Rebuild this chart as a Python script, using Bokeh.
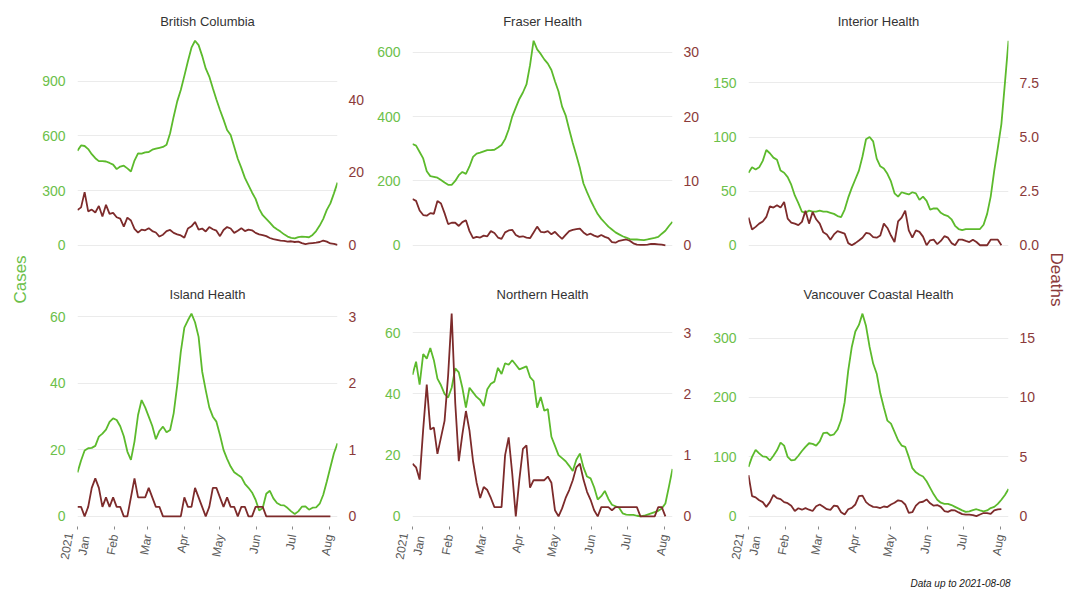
import math
import pandas as pd
from bokeh.plotting import figure
from bokeh.models import Range1d, LinearAxis, FixedTicker, Label, ColumnDataSource
from bokeh.layouts import row, column
from bokeh.embed import file_html
from bokeh.resources import INLINE

# ---------------- data (7-day averages, one value every 3 days from 2021-01-01) ----------------
START = "2021-01-01"
END = "2021-08-08"
STEP = "3D"
DEATH_SCALE = 20  # deaths axis = cases axis / 20

regions = ["British Columbia", "Fraser Health", "Interior Health",
           "Island Health", "Northern Health", "Vancouver Coastal Health"]

bc_cases = [519, 548, 545, 528, 500, 478, 462, 462, 460, 452,
            443, 418, 432, 437, 422, 405, 465, 505, 503, 510,
            512, 525, 530, 535, 540, 552, 615, 706, 790, 852,
            930, 1010, 1085, 1123, 1099, 1040, 971, 926, 862, 800,
            743, 690, 633, 605, 541, 475, 425, 370, 330, 290,
            255, 200, 165, 145, 124, 102, 88, 75, 60, 48,
            41, 38, 45, 48, 46, 44, 57, 78, 108, 145,
            194, 230, 285, 344]
bc_deaths = [9.7, 10.4, 14.6, 9.3, 9.8, 9.0, 10.8, 7.9, 11.1, 8.6,
             8.9, 7.7, 7.3, 5.1, 7.6, 6.8, 4.5, 3.5, 4.3, 4.1,
             4.7, 3.9, 3.5, 2.4, 2.9, 3.9, 4.2, 3.4, 3.0, 2.7,
             2.1, 4.6, 5.2, 6.4, 4.3, 4.6, 3.8, 5.0, 4.4, 4.0,
             2.5, 4.2, 5.0, 4.6, 3.4, 4.0, 4.7, 3.9, 4.3, 4.1,
             3.4, 3.0, 2.8, 2.5, 2.0, 1.7, 1.5, 1.3, 1.2, 1.0,
             1.1, 0.9, 1.0, 0.6, 0.3, 0.5, 0.6, 0.7, 0.9, 1.3,
             1.0, 0.5, 0.4, 0.1]

fraser_cases = [315, 310, 290, 270, 230, 215, 213, 210, 203, 195,
                188, 188, 200, 218, 228, 222, 245, 275, 285, 288,
                292, 296, 296, 297, 304, 312, 330, 360, 400, 428,
                455, 475, 500, 560, 636, 609, 595, 578, 565, 545,
                510, 478, 431, 404, 360, 318, 280, 240, 192, 165,
                140, 118, 97, 82, 70, 58, 49, 40, 34, 28,
                24, 19, 18, 18, 17, 16, 18, 21, 23, 26,
                36, 45, 60, 73]
fraser_deaths = [7.2, 6.9, 5.4, 4.7, 4.6, 5.0, 4.9, 6.9, 6.5, 5.0,
                 3.3, 3.5, 3.5, 3.0, 3.6, 3.9, 2.2, 1.1, 1.3, 1.2,
                 1.5, 1.4, 2.2, 1.9, 1.2, 1.0, 2.0, 2.3, 2.4, 1.6,
                 1.3, 1.4, 1.2, 1.1, 2.0, 2.9, 2.1, 2.0, 2.2, 1.7,
                 2.1, 1.5, 1.0, 1.6, 2.2, 2.4, 2.5, 2.6, 2.0, 1.6,
                 1.8, 1.5, 1.3, 1.6, 1.3, 1.1, 0.5, 0.4, 0.7, 0.8,
                 0.9, 0.7, 0.3, 0.1, 0.05, 0.05, 0.1, 0.2, 0.2, 0.15,
                 0.1, 0.0]

interior_cases = [67, 72, 70, 72, 78, 88, 85, 81, 79, 69,
                  67, 63, 56, 46, 39, 31, 30, 32, 31, 31,
                  32, 31, 31, 30, 29, 27, 26, 33, 44, 53,
                  61, 69, 82, 98, 100, 96, 80, 73, 71, 66,
                  59, 48, 45, 49, 48, 47, 49, 48, 42, 45,
                  41, 33, 34, 34, 30, 28, 27, 24, 18, 15,
                  14, 15, 15, 15, 15, 15, 19, 29, 45, 69,
                  90, 112, 150, 189]
interior_deaths = [1.28, 0.73, 0.85, 1.0, 1.1, 1.31, 1.8, 1.74, 1.85, 1.74,
                   2.0, 1.23, 1.05, 1.0, 0.93, 1.08, 1.59, 1.0, 1.54, 1.2,
                   1.0, 0.6, 0.5, 0.26, 0.5, 0.65, 0.6, 0.54, 0.1, 0.0,
                   0.1, 0.22, 0.35, 0.57, 0.54, 0.38, 0.35, 0.45, 1.0, 0.8,
                   0.45, 0.15, 1.1, 1.28, 1.6, 0.69, 0.35, 0.69, 0.62, 0.4,
                   0.0, 0.23, 0.26, 0.05, 0.2, 0.42, 0.35, 0.1, 0.0, 0.26,
                   0.26, 0.2, 0.15, 0.26, 0.15, 0.0, 0.0, 0.0, 0.26, 0.26,
                   0.26, 0.0]

island_cases = [13.2, 16.8, 19.8, 20.5, 20.6, 21.2, 24.0, 24.9, 26.1, 28.4,
                29.5, 29.0, 27.1, 24.1, 19.5, 17.0, 22.5, 30.5, 35.0, 32.8,
                30.0, 27.2, 23.2, 25.7, 27.0, 25.3, 26.0, 31.0, 39.5, 49.5,
                56.8, 59.0, 61.0, 58.4, 54.0, 43.6, 38.0, 32.8, 30.0, 28.5,
                24.5, 20.0, 17.3, 15.0, 13.3, 12.5, 11.8, 9.8, 8.6, 7.2,
                5.0, 1.8, 2.5, 6.8, 7.7, 5.4, 4.0, 3.4, 3.3, 2.5,
                1.5, 0.7, 1.5, 2.9, 3.0, 2.0, 2.6, 2.7, 3.8, 6.5,
                10.5, 14.8, 19.0, 22.0]
island_deaths = [0.143, 0.143, 0.0, 0.143, 0.429, 0.571, 0.429, 0.143, 0.286, 0.143,
                 0.286, 0.143, 0.143, 0.0, 0.0, 0.286, 0.571, 0.286, 0.286, 0.286,
                 0.429, 0.286, 0.143, 0.143, 0.0, 0.0, 0.0, 0.0, 0.0, 0.0,
                 0.286, 0.143, 0.143, 0.429, 0.286, 0.143, 0.0, 0.143, 0.429, 0.429,
                 0.286, 0.143, 0.286, 0.143, 0.143, 0.0, 0.143, 0.143, 0.0, 0.0,
                 0.143, 0.143, 0.143, 0.0, 0.0, 0.0, 0.0, 0.0, 0.0, 0.0,
                 0.0, 0.0, 0.0, 0.0, 0.0, 0.0, 0.0, 0.0, 0.0, 0.0,
                 0.0, 0.0]

northern_cases = [46.2, 50.5, 43.0, 53.0, 51.5, 55.0, 51.0, 45.0, 42.8, 40.0,
                  38.8, 42.0, 48.3, 47.0, 42.0, 35.5, 42.0, 40.5, 39.0, 38.0,
                  36.0, 41.5, 43.3, 44.0, 48.5, 46.5, 50.0, 49.5, 51.0, 49.5,
                  48.0, 48.5, 49.0, 45.5, 44.2, 35.5, 39.0, 34.5, 35.0, 26.0,
                  23.0, 20.0, 19.0, 18.0, 16.5, 14.8, 18.5, 20.5, 16.0, 13.0,
                  12.4, 9.5, 5.5, 6.6, 8.3, 5.7, 3.8, 3.3, 2.8, 1.0,
                  0.6, 0.5, 0.5, 0.2, 0.0, 0.2, 0.6, 1.0, 1.4, 1.8,
                  2.6, 4.2, 9.7, 15.5]
northern_deaths = [0.86, 0.8, 0.6, 1.42, 2.15, 1.42, 1.45, 1.02, 1.29, 1.56,
                   2.3, 3.31, 1.85, 0.9, 1.34, 1.72, 1.4, 0.9, 0.55, 0.3,
                   0.48, 0.43, 0.3, 0.15, 0.15, 0.15, 1.0, 1.29, 0.7, 0.0,
                   0.6, 1.1, 1.16, 0.47, 0.59, 0.59, 0.59, 0.59, 0.65, 0.55,
                   0.1, 0.0, 0.13, 0.3, 0.43, 0.59, 0.8, 0.86, 0.6, 0.4,
                   0.27, 0.1, 0.0, 0.15, 0.15, 0.15, 0.1, 0.15, 0.15, 0.15,
                   0.15, 0.15, 0.15, 0.15, 0.0, 0.0, 0.0, 0.0, 0.0, 0.15,
                   0.15, 0.0]

vch_cases = [83, 100, 112, 106, 101, 100, 94, 102, 111, 124,
             119, 100, 94, 95, 102, 110, 117, 123, 122, 119,
             126, 140, 141, 136, 138, 146, 162, 192, 245, 285,
             311, 322, 341, 320, 285, 257, 240, 207, 183, 161,
             156, 142, 128, 119, 117, 100, 81, 74, 70, 67,
             59, 48, 37, 28, 23, 21, 21, 19, 16, 13,
             10, 7.5, 8.5, 10.5, 12, 10, 8.5, 10, 14, 16,
             21, 28, 36, 46]
vch_deaths = [3.47, 1.7, 1.6, 1.35, 1.2, 0.8, 1.2, 1.8, 1.53, 1.45,
              1.2, 1.11, 0.9, 0.45, 0.68, 0.56, 0.69, 0.56, 0.45, 0.85,
              1.0, 0.8, 0.6, 0.55, 0.9, 0.85, 0.35, 0.15, 0.6, 0.72,
              1.0, 1.7, 1.75, 1.2, 0.95, 0.8, 0.78, 0.7, 0.83, 0.78,
              1.0, 1.15, 1.35, 1.28, 1.0, 0.3, 0.35, 0.9, 1.18, 1.23,
              1.42, 1.1, 0.9, 0.95, 0.8, 0.45, 0.38, 0.52, 0.5, 0.33,
              0.19, 0.15, 0.14, 0.1, 0.02, 0.16, 0.28, 0.28, 0.2, 0.5,
              0.58, 0.61]

cases_series = [bc_cases, fraser_cases, interior_cases, island_cases, northern_cases, vch_cases]
deaths_series = [bc_deaths, fraser_deaths, interior_deaths, island_deaths, northern_deaths, vch_deaths]

cases_ticks = [[0, 300, 600, 900], [0, 200, 400, 600], [0, 50, 100, 150],
               [0, 20, 40, 60], [0, 20, 40, 60], [0, 100, 200, 300]]
deaths_ticks = [[0, 20, 40], [0, 10, 20, 30], [0, 2.5, 5, 7.5],
                [0, 1, 2, 3], [0, 1, 2, 3], [0, 5, 10, 15]]
deaths_tick_labels = [["0", "20", "40"], ["0", "10", "20", "30"], ["0.0", "2.5", "5.0", "7.5"],
                      ["0", "1", "2", "3"], ["0", "1", "2", "3"], ["0", "5", "10", "15"]]

month_ticks = ["2021-01-01", "2021-02-01", "2021-03-01", "2021-04-01",
               "2021-05-01", "2021-06-01", "2021-07-01", "2021-08-01"]
month_labels = ["2021\nJan", "Feb", "Mar", "Apr", "May", "Jun", "Jul", "Aug"]

note_text = "Data up to 2021-08-08"

# ---------------- styling / layout ----------------
FONT = "Liberation Sans"
CASE_LINE = "#5cba2c"
CASE_TEXT = "#6cc04a"
DEATH_LINE = "#7d2b2b"
DEATH_TEXT = "#8b3a3a"
GRID = "#ebebeb"

LEFT_W = 30
RIGHT_W = 30
COL_W = [340, 336, 336]
COL_BL = [47, 42, 42]
COL_BR = [33, 34, 34]
FRAME_H = 225
TOP_BT, TOP_BB = 30, 28
BOT_BT, BOT_BB = 18, 44
NOTE_H = 30
TOTAL_H = (TOP_BT + FRAME_H + TOP_BB) + (BOT_BT + FRAME_H + BOT_BB) + NOTE_H


def ms(s):
    return pd.Timestamp(s).value / 1e6


def make_panel(i, bottom_row):
    name = regions[i]
    cases = cases_series[i]
    deaths = deaths_series[i]
    c = i % 3
    bt, bb = (BOT_BT, BOT_BB) if bottom_row else (TOP_BT, TOP_BB)

    m = max(max(cases), DEATH_SCALE * max(deaths))
    lo, hi = -0.05 * m, 1.05 * m

    p = figure(width=COL_W[c], height=bt + FRAME_H + bb, title=name,
               x_axis_type="datetime",
               x_range=Range1d(ms(START), ms(END)),
               y_range=Range1d(lo, hi),
               x_axis_location="below" if bottom_row else None,
               output_backend="svg", toolbar_location=None,
               min_border_left=COL_BL[c], min_border_right=COL_BR[c],
               min_border_top=bt, min_border_bottom=bb)
    p.extra_y_ranges = {"deaths": Range1d(lo / DEATH_SCALE, hi / DEATH_SCALE)}
    p.outline_line_color = None

    p.title.text_font = FONT
    p.title.text_font_size = "13px"
    p.title.text_font_style = "normal"
    p.title.text_color = "#333333"
    p.title.align = "center"
    p.title.standoff = 3

    p.xgrid.visible = False
    p.ygrid.ticker = FixedTicker(ticks=cases_ticks[i])
    p.ygrid.grid_line_color = GRID
    p.ygrid.grid_line_width = 1

    ya = p.yaxis[0]
    ya.ticker = FixedTicker(ticks=cases_ticks[i])
    ya.axis_line_color = None
    ya.major_tick_line_color = None
    ya.minor_tick_line_color = None
    ya.major_label_text_color = CASE_TEXT
    ya.major_label_text_font = FONT
    ya.major_label_text_font_size = "14px"
    ya.major_label_standoff = 6

    ra = LinearAxis(y_range_name="deaths",
                    ticker=FixedTicker(ticks=deaths_ticks[i]),
                    major_label_overrides=dict(zip(deaths_ticks[i], deaths_tick_labels[i])))
    ra.axis_line_color = None
    ra.major_tick_line_color = None
    ra.minor_tick_line_color = None
    ra.major_label_text_color = DEATH_TEXT
    ra.major_label_text_font = FONT
    ra.major_label_text_font_size = "14px"
    ra.major_label_standoff = 5
    p.add_layout(ra, "right")

    if bottom_row:
        xa = p.xaxis[0]
        tks = [ms(t) for t in month_ticks]
        xa.ticker = FixedTicker(ticks=tks)
        xa.major_label_overrides = dict(zip(tks, month_labels))
        xa.major_label_orientation = math.radians(80)
        xa.axis_line_color = None
        xa.major_tick_line_color = "#8a8a8a"
        xa.major_tick_out = 3
        xa.major_tick_in = 0
        xa.minor_tick_line_color = None
        xa.major_label_text_color = "#5a5a5a"
        xa.major_label_text_font = FONT
        xa.major_label_text_font_size = "12px"
        xa.major_label_standoff = 5

    src_c = ColumnDataSource(dict(date=pd.date_range(START, periods=len(cases), freq=STEP), value=cases))
    src_d = ColumnDataSource(dict(date=pd.date_range(START, periods=len(deaths), freq=STEP), value=deaths))
    p.line("date", "value", source=src_c, line_color=CASE_LINE, line_width=1.8)
    p.line("date", "value", source=src_d, line_color=DEATH_LINE, line_width=1.8, y_range_name="deaths")
    return p


panels = [make_panel(i, i >= 3) for i in range(6)]


def blank(width, height):
    f = figure(width=width, height=height, x_range=Range1d(0, width), y_range=Range1d(0, height),
               output_backend="svg", toolbar_location=None, min_border=0,
               x_axis_location=None, y_axis_location=None)
    f.outline_line_color = None
    f.grid.visible = False
    return f


left = blank(LEFT_W, TOTAL_H)
left.add_layout(Label(x=20, y=TOTAL_H - 279, text="Cases", angle=math.pi / 2,
                      text_align="center", text_baseline="middle",
                      text_font=FONT, text_font_size="17px", text_color=CASE_TEXT))

right = blank(RIGHT_W, TOTAL_H)
right.add_layout(Label(x=14, y=TOTAL_H - 279, text="Deaths", angle=-math.pi / 2,
                       text_align="center", text_baseline="middle",
                       text_font=FONT, text_font_size="17px", text_color=DEATH_TEXT))

note_w = sum(COL_W)
note = blank(note_w, NOTE_H)
note.add_layout(Label(x=note_w - COL_BR[2] + 2, y=NOTE_H - 13, text=note_text,
                      text_align="right", text_baseline="middle",
                      text_font=FONT, text_font_style="italic",
                      text_font_size="10px", text_color="#1a1a1a"))

layout = row(left, column(row(*panels[:3]), row(*panels[3:]), note), right)

open("out.html", "w").write(file_html(layout, INLINE))
